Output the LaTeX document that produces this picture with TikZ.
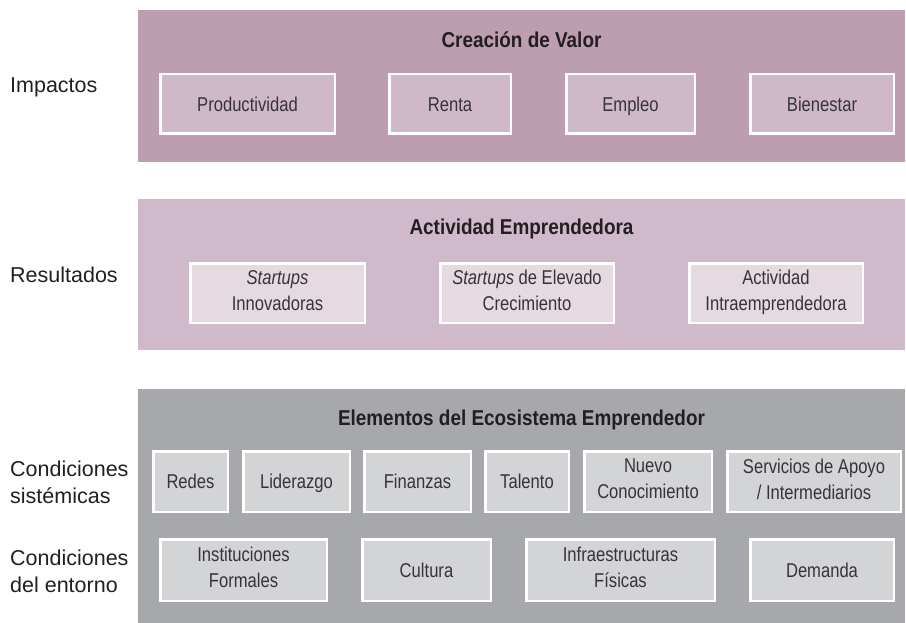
\documentclass[tikz,border=0pt]{standalone}
\usepackage{fontspec}
\setmainfont{Liberation Sans}[FakeStretch=0.83]
\newfontfamily\titlef{Liberation Sans}[FakeStretch=0.88]
\newfontfamily\labelf{Liberation Sans}
\definecolor{pA}{HTML}{BD9DB0}
\definecolor{pAbox}{HTML}{CFB9C9}
\definecolor{pB}{HTML}{CFB9CA}
\definecolor{pBbox}{HTML}{E5DAE2}
\definecolor{pC}{HTML}{A7A8AC}
\definecolor{pCbox}{HTML}{D3D4D6}
\definecolor{txt}{HTML}{363436}
\definecolor{ttl}{HTML}{231F20}
\tikzset{
  panel/.style={fill=#1, draw=none, inner sep=0pt, minimum width=767pt},
  bx/.style={fill=#1, draw=white, line width=2.5pt, inner sep=0pt, align=center,
    text=txt, font=\fontsize{20}{26}\selectfont,
    execute at begin node={\rule{0pt}{19.3pt}},
    execute at end node={\rule[-5pt]{0pt}{5pt}}},
  ttlnode/.style={text=ttl, font=\titlef\bfseries\fontsize{21.5}{26}\selectfont, inner sep=0pt, anchor=base},
  lbl/.style={text=ttl, font=\labelf\fontsize{21.5}{27}\selectfont, align=left, anchor=base west, inner sep=0pt}
}
\begin{document}
\begin{tikzpicture}[x=1pt,y=-1pt]
\useasboundingbox (0,0) rectangle (906,623);
% panels
\node[panel=pA, minimum height=152pt] (P1) at (521.5,86) {};
\node[panel=pB, minimum height=151pt] (P2) at (521.5,274.5) {};
\node[panel=pC, minimum height=234pt] (P3) at (521.5,506) {};
% titles
\node[ttlnode] (T1) at (521.5,47.5) {Creación de Valor};
\node[ttlnode] (T2) at (521.5,235) {Actividad Emprendedora};
\node[ttlnode] (T3) at (521.5,425) {Elementos del Ecosistema Emprendedor};
% panel 1 boxes
\node[bx=pAbox, minimum width=174.5pt, minimum height=59.5pt] (b11) at (247.5,104) {Productividad};
\node[bx=pAbox, minimum width=121.5pt, minimum height=59.5pt] (b12) at (450,104) {Renta};
\node[bx=pAbox, minimum width=128.5pt, minimum height=59.5pt] (b13) at (630.5,104) {Empleo};
\node[bx=pAbox, minimum width=143.5pt, minimum height=59.5pt] (b14) at (822,104) {Bienestar};
% panel 2 boxes
\node[bx=pBbox, minimum width=174.5pt, minimum height=59.5pt] (b21) at (277.5,293) {\textit{Startups}\\Innovadoras};
\node[bx=pBbox, minimum width=173.5pt, minimum height=59.5pt] (b22) at (527,293) {\textit{Startups} de Elevado\\Crecimiento};
\node[bx=pBbox, minimum width=173.5pt, minimum height=59.5pt] (b23) at (776,293) {Actividad\\Intraemprendedora};
% panel 3 row 1
\node[bx=pCbox, minimum width=74.5pt, minimum height=60.5pt] (c1) at (190.5,481.5) {Redes};
\node[bx=pCbox, minimum width=106.5pt, minimum height=60.5pt] (c2) at (296.5,481.5) {Liderazgo};
\node[bx=pCbox, minimum width=106.5pt, minimum height=60.5pt] (c3) at (417.5,481.5) {Finanzas};
\node[bx=pCbox, minimum width=83.5pt, minimum height=60.5pt] (c4) at (527,481.5) {Talento};
\node[bx=pCbox, minimum width=127.5pt, minimum height=60.5pt] (c5) at (648,481.5) {Nuevo\\Conocimiento};
\node[bx=pCbox, minimum width=173.5pt, minimum height=60.5pt] (c6) at (814,481.5) {Servicios de Apoyo\\/ Intermediarios};
% panel 3 row 2
\node[bx=pCbox, minimum width=166.5pt, minimum height=61.5pt] (d1) at (243.5,570) {Instituciones\\Formales};
\node[bx=pCbox, minimum width=128.5pt, minimum height=61.5pt] (d2) at (426.5,570) {Cultura};
\node[bx=pCbox, minimum width=188.5pt, minimum height=61.5pt] (d3) at (620.5,570) {Infraestructuras\\Físicas};
\node[bx=pCbox, minimum width=143.5pt, minimum height=61.5pt] (d4) at (822,570) {Demanda};
% side labels
\node[lbl] (L1) at (10,93) {Impactos};
\node[lbl] (L2) at (10,283) {Resultados};
\node[lbl] (L3) at (10,503.5) {Condiciones\\sistémicas};
\node[lbl] (L4) at (10,592) {Condiciones\\del entorno};
\end{tikzpicture}
\end{document}
